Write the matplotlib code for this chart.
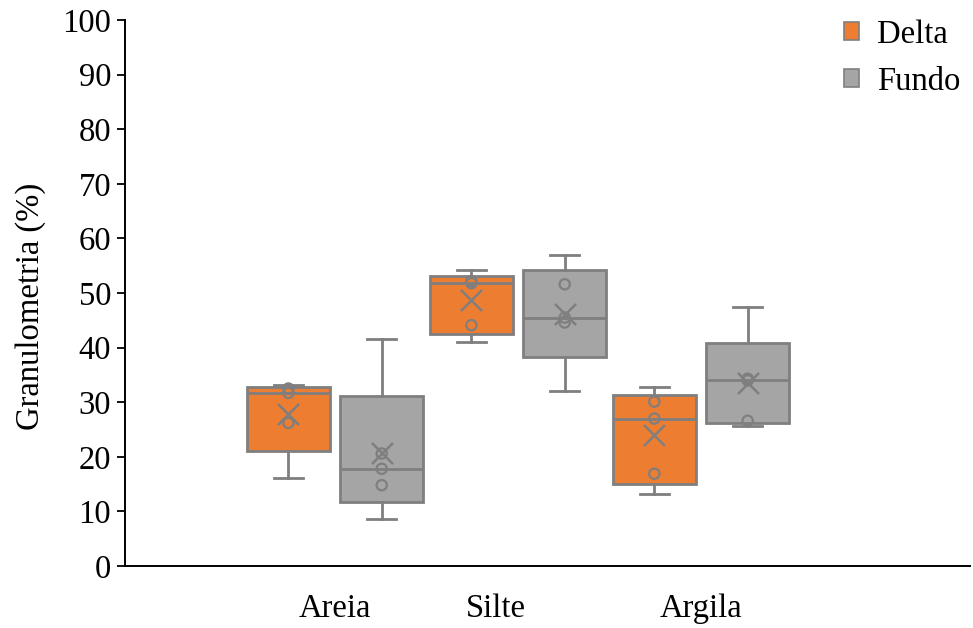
import numpy as np
import matplotlib
matplotlib.use("Agg")
import matplotlib.pyplot as plt
from matplotlib.patches import Patch

# Grain-size fractions (%) per sample, by environment
categories = ["Areia", "Silte", "Argila"]
delta = [
    [16.1, 26.2, 31.7, 32.5, 33.1],
    [41.0, 44.1, 51.8, 52.2, 54.2],
    [13.2, 16.9, 27.0, 30.1, 32.7],
]
fundo = [
    [8.6, 14.8, 17.8, 20.6, 41.6],
    [32.1, 44.6, 45.5, 51.6, 57.0],
    [25.6, 26.6, 34.0, 34.3, 47.5],
]
series_names = ["Delta", "Fundo"]
yticks = list(range(0, 101, 10))

fill_colors = ["#ED7D31", "#A5A5A5"]
edge = "#7F7F7F"
font = "Liberation Serif"
fs = 23.5


def box_stats(values):
    """Exclusive-quartile box statistics with 1.5 IQR whiskers."""
    v = np.sort(np.asarray(values, dtype=float))
    q1, med, q3 = np.quantile(v, [0.25, 0.5, 0.75], method="weibull")
    iqr = q3 - q1
    lo = v[v >= q1 - 1.5 * iqr].min()
    hi = v[v <= q3 + 1.5 * iqr].max()
    return dict(med=med, q1=q1, q3=q3, whislo=lo, whishi=hi,
                mean=v.mean(), fliers=v[(v < lo) | (v > hi)])


fig = plt.figure(figsize=(9.73, 6.28), dpi=100)
ax = fig.add_axes([125 / 973, 1 - 566 / 628, 845 / 973, 546 / 628])

offsets = [-0.255, 0.255]
width = 0.455
for s, (data, color) in enumerate(zip([delta, fundo], fill_colors)):
    stats = [box_stats(d) for d in data]
    pos = np.arange(len(categories)) + offsets[s]
    ax.bxp(stats, positions=pos, widths=width, patch_artist=True,
           showmeans=False, showfliers=False, capwidths=width * 0.35,
           boxprops=dict(facecolor=color, edgecolor=edge, linewidth=2),
           medianprops=dict(color=edge, linewidth=2),
           whiskerprops=dict(color=edge, linewidth=2),
           capprops=dict(color=edge, linewidth=2))
    for p, d, st in zip(pos, data, stats):
        inner = [x for x in d if st["whislo"] < x < st["whishi"]]
        ax.scatter([p] * len(inner), inner, s=55, facecolors="none",
                   edgecolors=edge, linewidths=1.6, zorder=4)
        ax.scatter([p], [st["mean"]], marker="x", s=230, color=edge,
                   linewidths=1.8, zorder=5)

ax.set_xlim(-1.148, 3.47)
ax.set_ylim(0, 100)
ax.set_yticks(yticks)
ax.set_xticks([0, 0.88, 2])
ax.set_xticklabels(categories)
ax.tick_params(axis="x", length=0, pad=20)
ax.tick_params(axis="y", length=6, width=1.3, direction="out", pad=4)
for lab in ax.get_xticklabels() + ax.get_yticklabels():
    lab.set_fontfamily(font)
    lab.set_fontsize(fs)

for side in ["top", "right"]:
    ax.spines[side].set_visible(False)
for side in ["left", "bottom"]:
    ax.spines[side].set_linewidth(1.4)
    ax.spines[side].set_color("black")

ax.set_ylabel("Granulometria (%)", fontfamily=font, fontsize=fs)
ax.yaxis.set_label_coords(-0.093, 0.475)

handles = [Patch(facecolor=c, edgecolor=edge, linewidth=1.2) for c in fill_colors]
fig.legend(handles, series_names, loc="upper right",
           bbox_to_anchor=(1.017, 1.016), frameon=False,
           prop=dict(family=font, size=fs), handlelength=0.45,
           handleheight=0.45, handletextpad=0.55, labelspacing=0.5)

fig.savefig("out.png", dpi=100)
